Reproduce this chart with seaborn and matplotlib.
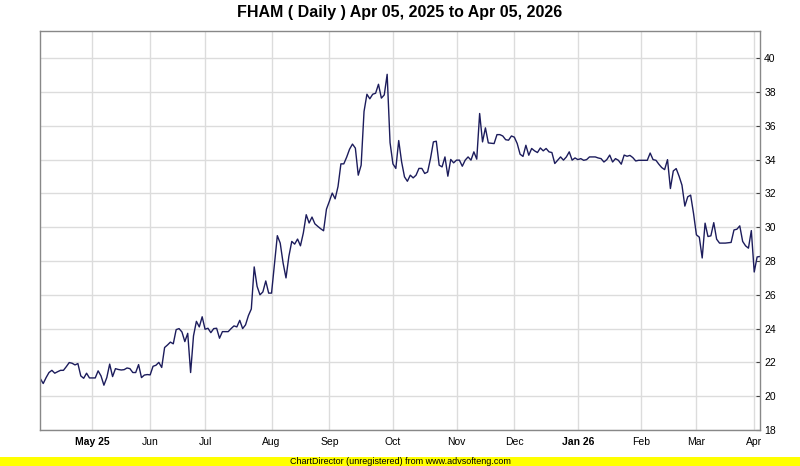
import numpy as np
import pandas as pd
import matplotlib
matplotlib.use('Agg')
import matplotlib.pyplot as plt
from matplotlib.patches import Rectangle
import seaborn as sns

# Daily closes, one per trading session
prices = [
    21.04, 20.75, 21.10, 21.40, 21.53, 21.36, 21.45, 21.53, 21.53, 21.75,
    21.99, 21.95, 21.85, 21.93, 21.20, 21.06, 21.36, 21.08, 21.08, 21.08,
    21.50, 21.20, 20.65, 21.10, 21.90, 21.16, 21.63, 21.58, 21.55, 21.57,
    21.67, 21.63, 21.40, 21.40, 21.87, 21.10, 21.25, 21.28, 21.26, 21.77,
    21.83, 22.00, 21.70, 22.88, 23.03, 23.20, 23.10, 23.94, 24.00, 23.80,
    23.23, 23.72, 21.40, 23.57, 24.43, 24.10, 24.70, 23.96, 24.02, 23.76,
    24.00, 24.02, 23.43, 23.82, 23.82, 23.82, 24.00, 24.16, 24.10, 24.49,
    24.00, 24.22, 24.77, 25.16, 27.65, 26.50, 26.00, 26.17, 26.82, 26.10,
    26.10, 27.80, 29.50, 29.06, 27.88, 27.00, 28.28, 29.16, 29.00, 29.30,
    28.90, 29.66, 30.74, 30.25, 30.60, 30.20, 30.05, 29.91, 29.79, 31.07,
    31.53, 32.02, 31.68, 32.41, 33.75, 33.75, 34.15, 34.62, 34.92, 34.68,
    33.08, 33.67, 36.85, 37.87, 37.60, 37.87, 37.93, 38.46, 37.64, 37.83,
    39.05, 35.01, 33.75, 33.48, 35.13, 33.87, 32.98, 32.72, 33.08, 32.92,
    33.08, 33.48, 33.48, 33.18, 33.27, 34.07, 35.05, 35.09, 33.67, 33.57,
    34.16, 33.02, 34.01, 33.81, 33.97, 33.97, 33.61, 33.97, 34.16, 33.97,
    34.46, 34.03, 36.73, 35.05, 35.88, 34.99, 34.97, 34.95, 35.48, 35.48,
    35.40, 35.18, 35.15, 35.40, 35.33, 34.95, 34.32, 34.19, 34.85, 34.26,
    34.66, 34.52, 34.42, 34.69, 34.52, 34.66, 34.46, 34.42, 33.77, 33.97,
    34.16, 33.97, 34.16, 34.46, 33.97, 34.10, 34.00, 34.06, 33.96, 34.00,
    34.16, 34.16, 34.16, 34.10, 34.06, 33.86, 34.00, 34.27, 33.86, 34.06,
    33.96, 33.73, 34.27, 34.20, 34.25, 34.12, 33.92, 33.96, 33.96, 33.96,
    33.96, 34.39, 34.00, 33.96, 33.73, 33.53, 33.41, 34.00, 32.29, 33.33,
    33.47, 33.02, 32.49, 31.25, 31.80, 31.90, 30.82, 29.55, 29.41, 28.18,
    30.24, 29.45, 29.49, 30.27, 29.29, 29.06, 29.06, 29.06, 29.08, 29.10,
    29.84, 29.88, 30.08, 29.16, 28.90, 28.76, 29.80, 27.35, 28.24, 28.27,
]

# Month starts (session index) and their labels
month_labels = ['May 25', 'Jun', 'Jul', 'Aug', 'Sep', 'Oct', 'Nov', 'Dec',
                'Jan 26', 'Feb', 'Mar', 'Apr']
month_pos = [18, 38, 57, 80, 100, 122, 144, 164, 186, 208, 227, 247]
bold_labels = ['May 25', 'Jan 26']
y_ticks = list(range(18, 41, 2))

df = pd.DataFrame({'session': np.arange(len(prices)), 'close': prices})

sns.set_style('white')
plt.rcParams['font.family'] = ['Liberation Sans', 'DejaVu Sans']

fig = plt.figure(figsize=(8, 4.66), dpi=100)
ax = fig.add_axes([0.0504, 0.0773, 0.8996, 0.8568])

sns.lineplot(data=df, x='session', y='close', ax=ax, color='#1c1c5c', linewidth=1.0)

ax.set_xlim(0, len(prices) - 1)
ax.set_ylim(18, 41.63)
ax.set_xlabel('')
ax.set_ylabel('')

ax.yaxis.tick_right()
ax.set_yticks(y_ticks)
ax.set_xticks(month_pos)
ax.set_xticklabels(month_labels)
for lbl in ax.get_xticklabels():
    if lbl.get_text() in bold_labels:
        lbl.set_fontweight('bold')

ax.grid(True, color='#dcdcdc', linewidth=1.0)
ax.set_axisbelow(True)
ax.tick_params(axis='x', direction='out', length=3, width=0.8, color='#444444',
               labelsize=7.5, pad=2, labelcolor='#000000')
ax.tick_params(axis='y', direction='in', length=3, width=0.8, color='#444444',
               labelsize=7.5, pad=3, labelcolor='#000000')
for s in ax.spines.values():
    s.set_color('#888888')
    s.set_linewidth(1.0)

fig.text(0.5, 1 - 12 / 466, 'FHAM ( Daily ) Apr 05, 2025 to Apr 05, 2026',
         ha='center', va='center', fontsize=11.5, fontweight='bold', color='#000000')

# unregistered banner at the bottom
fig.patches.append(Rectangle((0, 0), 1, 9 / 466, transform=fig.transFigure,
                             facecolor='#ffff00', edgecolor='none'))
fig.text(0.5, 4.5 / 466, 'ChartDirector (unregistered) from www.advsofteng.com',
         ha='center', va='center', fontsize=6.5, color='#000000')

fig.savefig('out.png', dpi=100)
